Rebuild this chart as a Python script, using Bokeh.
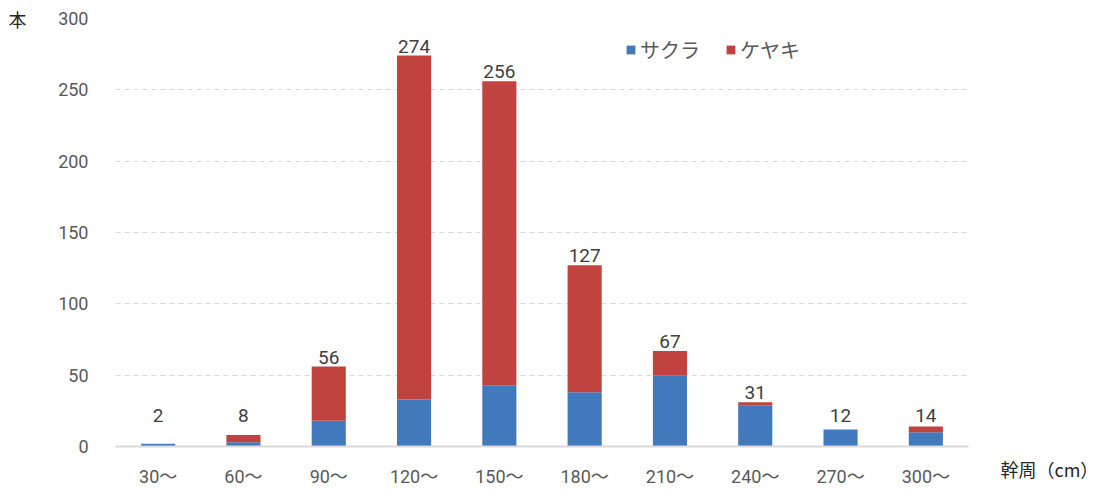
from bokeh.plotting import figure
from bokeh.models import (ColumnDataSource, Legend, LegendItem, FixedTicker, LinearAxis)
from bokeh.core.properties import value
from bokeh.embed import file_html
from bokeh.resources import INLINE

categories = ["30〜", "60〜", "90〜", "120〜", "150〜", "180〜", "210〜", "240〜", "270〜", "300〜"]
sakura = [2, 3, 18, 33, 43, 38, 50, 29, 12, 10]
keyaki = [0, 5, 38, 241, 213, 89, 17, 2, 0, 4]
totals = [s + k for s, k in zip(sakura, keyaki)]
y_ticks = [0, 50, 100, 150, 200, 250, 300]
y_unit = "本"
x_title = "幹周（cm）"

FONT = "Roboto, 'Noto Sans CJK JP'"
JFONT = "Noto Sans CJK JP"
BLUE = "#4279bd"
RED = "#c0433f"
GRAY = "#595959"
DARK = "#262626"

src = ColumnDataSource(dict(
    cat=categories, sakura=sakura, keyaki=keyaki, total=totals,
    label=[str(t) for t in totals],
    label_y=[max(t, 15) for t in totals],
))

p = figure(x_range=categories, y_range=(0, 300), frame_width=853, frame_height=428,
           output_backend="svg", toolbar_location=None,
           min_border_left=115, min_border_right=10, min_border_top=18, min_border_bottom=20)
p.outline_line_color = None
p.background_fill_color = "white"

r = p.vbar_stack(["sakura", "keyaki"], x="cat", width=0.4, source=src,
                 color=[BLUE, RED], line_color=None)

p.text(x="cat", y="label_y", text="label", source=src, text_align="center",
       text_baseline="bottom", y_offset=-3, text_font=value(FONT),
       text_font_size="19px", text_color="#404040")

p.x_range.range_padding = 0

yax = p.left[0]
yax.ticker = FixedTicker(ticks=y_ticks)
yax.axis_line_color = None
yax.major_tick_line_color = None
yax.minor_tick_line_color = None
yax.major_tick_out = 0
yax.major_label_standoff = 27
xax = p.below[0]
xax.axis_line_color = "#d9d9d9"
xax.axis_line_width = 2
xax.major_tick_line_color = None
xax.major_tick_out = 0
xax.major_label_standoff = 19
for ax in (xax, yax):
    ax.major_label_text_font = FONT
    ax.major_label_text_font_size = "18px"
    ax.major_label_text_color = GRAY

# unit label "本" at the top left, as an outer left axis with a single tick
unit_ax = LinearAxis(ticker=FixedTicker(ticks=[y_ticks[-1]]),
                     major_label_overrides={y_ticks[-1]: y_unit},
                     axis_line_color=None, major_tick_line_color=None,
                     minor_tick_line_color=None, major_tick_out=0, minor_tick_out=0,
                     major_label_standoff=29, major_label_text_font=JFONT,
                     major_label_text_font_size="18px", major_label_text_color=DARK)
p.add_layout(unit_ax, "left")

# x title at the bottom right, as a right axis with a single tick at 0
xt_ax = LinearAxis(ticker=FixedTicker(ticks=[y_ticks[0]]),
                   major_label_overrides={y_ticks[0]: "\n" + x_title},
                   axis_line_color=None, major_tick_line_color=None,
                   minor_tick_line_color=None, major_tick_out=0, minor_tick_out=0,
                   major_label_standoff=32, major_label_text_font=JFONT,
                   major_label_text_font_size="18px", major_label_text_color=DARK,
                   major_label_text_baseline="top", major_label_text_line_height=1.7)
p.add_layout(xt_ax, "right")

p.xgrid.grid_line_color = None
p.ygrid.grid_line_color = "#d9d9d9"
p.ygrid.grid_line_dash = "5 4"
p.ygrid.grid_line_width = 1

legend = Legend(items=[LegendItem(label="サクラ", renderers=[r[0]]),
                       LegendItem(label="ケヤキ", renderers=[r[1]])],
                orientation="horizontal", location=(510, 382),
                label_text_font=JFONT, label_text_font_size="20px",
                label_text_color=GRAY, glyph_width=11, glyph_height=11,
                spacing=25, label_standoff=4, border_line_color=None,
                background_fill_alpha=0, padding=0, margin=0)
p.add_layout(legend, "center")

open("out.html", "w").write(file_html(p, INLINE))
